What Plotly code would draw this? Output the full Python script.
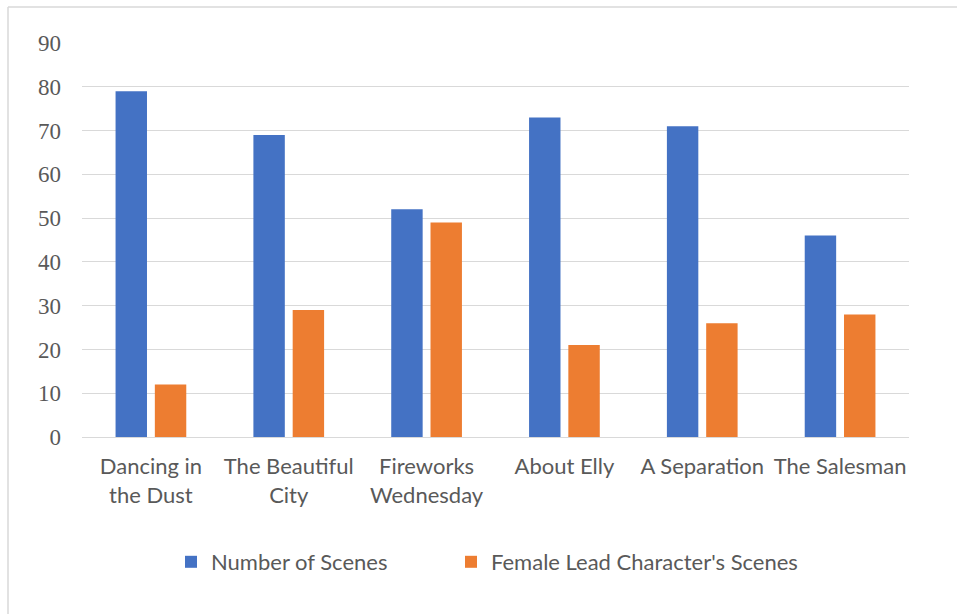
import plotly.graph_objects as go

categories = ["Dancing in<br>the Dust", "The Beautiful<br>City", "Fireworks<br>Wednesday",
              "About Elly", "A Separation", "The Salesman"]
num_scenes = [79, 69, 52, 73, 71, 46]
female_scenes = [12, 29, 49, 21, 26, 28]
y_ticks = [0, 10, 20, 30, 40, 50, 60, 70, 80, 90]

W, H = 957, 614
L, R, T, B = 82, 909, 43, 437  # plot area pixel bounds

fig = go.Figure()
fig.add_trace(go.Bar(x=categories, y=num_scenes, name="Number of Scenes",
                     marker=dict(color="#4472C4", line=dict(width=0)), legend="legend"))
fig.add_trace(go.Bar(x=categories, y=female_scenes, name="Female Lead Character's Scenes",
                     marker=dict(color="#ED7D31", line=dict(width=0)), legend="legend2"))

pw, ph = R - L, B - T
def px_x(p): return (p - L) / pw
def px_y(p): return (B - p) / ph

legend_font = dict(family="Lato, sans-serif", size=22, color="#595959")

fig.update_layout(
    width=W, height=H,
    margin=dict(l=L, r=W - R, t=T, b=H - B, autoexpand=False),
    paper_bgcolor="white", plot_bgcolor="white",
    barmode="group", bargap=0.43, bargroupgap=0.2,
    showlegend=True,
    legend=dict(orientation="h", x=px_x(171), xanchor="left", y=px_y(562), yanchor="middle",
                font=legend_font, itemsizing="constant", bgcolor="rgba(0,0,0,0)"),
    legend2=dict(orientation="h", x=px_x(451), xanchor="left", y=px_y(562), yanchor="middle",
                 font=legend_font, itemsizing="constant", bgcolor="rgba(0,0,0,0)"),
    xaxis=dict(showgrid=False, showline=False, ticks="", zeroline=False,
               tickfont=dict(family="Lato, sans-serif", size=22, color="#595959"),
               ticklabelstandoff=14),
    yaxis=dict(range=[0, 90], tickvals=y_ticks, showgrid=True, gridcolor="#D9D9D9", gridwidth=1,
               zeroline=True, zerolinecolor="#D9D9D9", zerolinewidth=1, showline=False,
               tickfont=dict(family="Liberation Serif, Times New Roman, serif", size=23, color="#595959"),
               ticklabelstandoff=20),
    shapes=[
        dict(type="line", xref="paper", yref="paper", x0=px_x(8), x1=px_x(957), y0=px_y(7), y1=px_y(7),
             line=dict(color="#D9D9D9", width=1.5)),
        dict(type="line", xref="paper", yref="paper", x0=px_x(8), x1=px_x(8), y0=px_y(7), y1=px_y(614),
             line=dict(color="#D9D9D9", width=1.5)),
    ],
)

fig.write_html("out.html", config={"displayModeBar": False},
               post_script="document.body.style.margin='0';")
